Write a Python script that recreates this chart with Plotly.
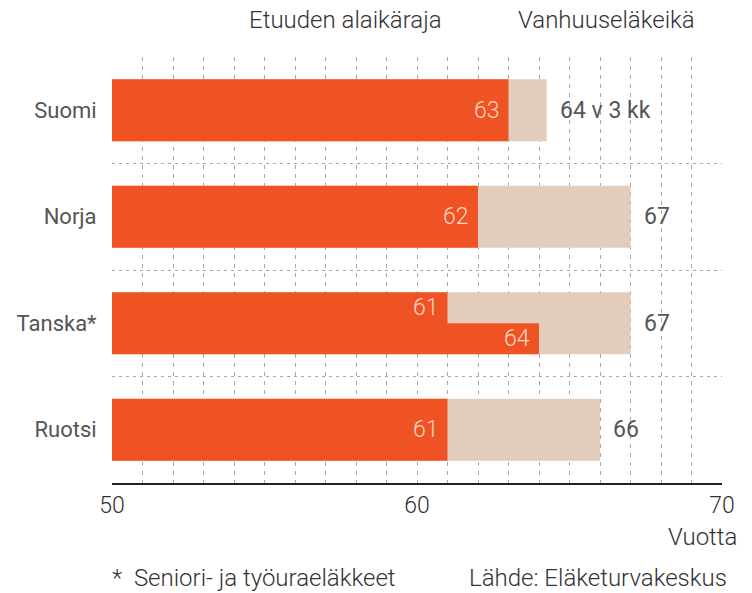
import plotly.graph_objects as go

countries = ["Suomi", "Norja", "Tanska*", "Ruotsi"]
min_age = [63, 62, 61, 61]          # Etuuden alaikäraja
pension_age = [64.25, 67, 67, 66]   # Vanhuuseläkeikä
pension_labels = ["64 v 3 kk", "67", "67", "66"]
tanska_second = 64                  # Tanska: seniori-/työuraeläke toinen raja
x_ticks = [50, 60, 70]

ORANGE = "#f05323"
BEIGE = "#e2cdbd"
TXT = "#555555"
LIGHT = "#fcd8c6"
FONT = "Roboto"

L, R, T, B = 112, 30, 57, 110
PW, PH = 752 - L - R, 593 - T - B
def px(xp): return (xp - L) / PW
def py(yp): return (593 - B - yp) / PH

ypos = list(range(len(countries)))
W = 0.58
EPS = 0.012

fig = go.Figure()
fig.add_trace(go.Scatter(x=[50], y=[0], xaxis="x2", yaxis="y2", mode="markers",
                         marker=dict(opacity=0), hoverinfo="skip"))
fig.add_trace(go.Bar(y=ypos, x=[v - 50 for v in pension_age], base=50, orientation="h",
                     width=W, marker_color=BEIGE, marker_line_width=0, hoverinfo="skip"))
single = [i for i in ypos if countries[i] != "Tanska*"]
fig.add_trace(go.Bar(y=single, x=[min_age[i] - 50 for i in single], base=50, orientation="h",
                     width=W, marker_color=ORANGE, marker_line_width=0, hoverinfo="skip"))
ti = countries.index("Tanska*")
fig.add_trace(go.Bar(y=[ti - W / 4 + EPS / 2, ti + W / 4], x=[min_age[ti] - 50, tanska_second - 50],
                     base=50, orientation="h", width=[W / 2 + EPS, W / 2], marker_color=ORANGE,
                     marker_line_width=0, hoverinfo="skip"))

LF = dict(size=23, color=LIGHT, family=FONT, weight=300)
ann = []
for i in ypos:
    if i == ti:
        for yy, v in [(ti - W / 4, min_age[ti]), (ti + W / 4, tanska_second)]:
            ann.append(dict(x=v, y=yy, xref="x", yref="y", text=str(v), showarrow=False,
                            xanchor="right", xshift=-7, font=LF))
    else:
        ann.append(dict(x=min_age[i], y=i, xref="x", yref="y", text=str(min_age[i]), showarrow=False,
                        xanchor="right", xshift=-7, font=LF))
    ann.append(dict(x=pension_age[i], y=i, xref="x", yref="y", text=pension_labels[i], showarrow=False,
                    xanchor="left", xshift=11, font=dict(size=23, color=TXT, family=FONT)))

HF = dict(size=24, color="#333333", family=FONT, weight=300)
ann += [
    dict(x=px(345), y=py(20), xref="paper", yref="paper", text="Etuuden alaikäraja", showarrow=False,
         xanchor="center", yanchor="middle", font=HF),
    dict(x=px(606), y=py(20), xref="paper", yref="paper", text="Vanhuuseläkeikä", showarrow=False,
         xanchor="center", yanchor="middle", font=HF),
    dict(x=px(739), y=py(537), xref="paper", yref="paper", text="Vuotta", showarrow=False,
         xanchor="right", yanchor="middle", font=HF),
    dict(x=px(110), y=py(578), xref="paper", yref="paper", text="*  Seniori- ja työuraeläkkeet",
         showarrow=False, xanchor="left", yanchor="middle", font=HF),
    dict(x=px(729), y=py(578), xref="paper", yref="paper", text="Lähde: Eläketurvakeskus",
         showarrow=False, xanchor="right", yanchor="middle", font=HF),
]

fig.update_layout(
    width=752, height=593,
    margin=dict(l=L, r=R, t=T, b=B),
    paper_bgcolor="white", plot_bgcolor="white",
    barmode="overlay", showlegend=False,
    annotations=ann,
    font=dict(family=FONT, color=TXT, size=20),
    xaxis=dict(range=[50, 70], tickvals=x_ticks, ticktext=[str(v) for v in x_ticks],
               showgrid=False, zeroline=False, showline=True, linecolor="#222", linewidth=2,
               ticks="", automargin=False,
               tickfont=dict(size=23, color="#333333", family=FONT, weight=300)),
    xaxis2=dict(range=[50, 70], overlaying="x", tickvals=list(range(51, 70)), showticklabels=False,
                showgrid=True, gridcolor="#a8a8a8", griddash="4px,5px", gridwidth=1,
                zeroline=False, showline=False, ticks="", automargin=False),
    yaxis=dict(range=[3.5, -0.5], tickvals=ypos, ticktext=countries, showgrid=False, zeroline=False,
               ticks="outside", ticklen=10, tickcolor="rgba(0,0,0,0)", automargin=False,
               tickfont=dict(size=22, color=TXT, family=FONT)),
    yaxis2=dict(range=[3.5, -0.5], overlaying="y", tickvals=[0.5, 1.5, 2.5], showticklabels=False,
                showgrid=True, gridcolor="#a8a8a8", griddash="3px,4px", gridwidth=1,
                zeroline=False, showline=False, ticks="", automargin=False),
)

fig.write_html("out.html", config={"displayModeBar": False},
               post_script="document.body.style.margin='0';")
